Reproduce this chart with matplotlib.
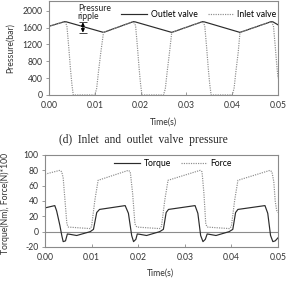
import matplotlib
matplotlib.use("Agg")
import matplotlib.pyplot as plt

# ---------------- data ----------------
# (d) Inlet and outlet valve pressure
t_outlet = [0.0, 0.0034, 0.0038, 0.0119, 0.0184, 0.0188, 0.0268, 0.0335, 0.0339, 0.0417, 0.0485, 0.0489, 0.0500]
p_outlet = [1630, 1740, 1735, 1485, 1740, 1735, 1485, 1740, 1735, 1485, 1740, 1735, 1665]

t_inlet = [0.0, 0.0034, 0.0039, 0.0043, 0.0047, 0.0050, 0.0053, 0.0100, 0.0104, 0.0108, 0.0113, 0.0119,
           0.0184, 0.0189, 0.0193, 0.0197, 0.0200, 0.0203, 0.0250, 0.0254, 0.0258, 0.0263, 0.0268,
           0.0335, 0.0340, 0.0344, 0.0348, 0.0351, 0.0354, 0.0400, 0.0404, 0.0408, 0.0413, 0.0417,
           0.0485, 0.0490, 0.0494, 0.0497, 0.0500]
p_inlet = [1630, 1740, 1650, 1150, 600, 250, 0, 0, 150, 550, 1000, 1485,
           1740, 1650, 1150, 600, 250, 0, 0, 150, 550, 1000, 1485,
           1740, 1650, 1150, 600, 250, 0, 0, 150, 550, 1000, 1485,
           1740, 1650, 1150, 750, 400]

# (e) Torque and force
t_torque = [0.0, 0.0021, 0.0025, 0.0032, 0.0036, 0.0039, 0.0044, 0.0048, 0.0054, 0.0068, 0.0097, 0.0104, 0.0111, 0.0117,
            0.0172, 0.0179, 0.0186, 0.0190, 0.0195, 0.0198, 0.0204, 0.0218, 0.0246, 0.0254, 0.0260, 0.0265,
            0.0322, 0.0328, 0.0334, 0.0339, 0.0344, 0.0348, 0.0353, 0.0367, 0.0395, 0.0403, 0.0409, 0.0414,
            0.0472, 0.0478, 0.0484, 0.0489, 0.0494, 0.0500]
v_torque = [31, 34, 27, 8, -5, -13, -12, -3, -3.5, -5, 0, 3, 25, 29,
            34, 24, -5, -13, -10, -3, -3.5, -5, 0, 3, 25, 29,
            34, 24, -5, -13, -10, -3, -3.5, -5, 0, 3, 25, 29,
            34, 24, -5, -13, -12, -8]

t_force = [0.0, 0.0032, 0.0036, 0.0039, 0.0043, 0.0047, 0.0050, 0.0097, 0.0100, 0.0107, 0.0114,
           0.0179, 0.0183, 0.0188, 0.0193, 0.0197, 0.0246, 0.0250, 0.0257, 0.0264,
           0.0333, 0.0337, 0.0341, 0.0345, 0.0348, 0.0396, 0.0400, 0.0407, 0.0414,
           0.0483, 0.0487, 0.0491, 0.0494, 0.0497, 0.0500]
v_force = [75, 80, 78, 70, 40, 10, 6, 4, 7, 41, 67,
           80, 78, 50, 10, 6, 4, 7, 41, 67,
           80, 78, 50, 10, 6, 4, 7, 41, 67,
           80, 78, 65, 40, 28, 25]

p_ticks = [0, 400, 800, 1200, 1600, 2000]
f_ticks = [-20, 0, 20, 40, 60, 80, 100]
x_ticks = [0.00, 0.01, 0.02, 0.03, 0.04, 0.05]

# ---------------- style ----------------
FONT = "Lato"
plt.rcParams['font.family'] = [FONT, 'DejaVu Sans']
FS = 6.2
DARK = "#2b2b2b"
LIGHT = "#8c8c8c"
FRAME = "#8a8a8a"

fig = plt.figure(figsize=(2.87, 2.81), dpi=100)


def style_axes(ax):
    for s in ax.spines.values():
        s.set_color(FRAME)
        s.set_linewidth(0.8)
    ax.tick_params(axis='x', direction='in', length=2.5, width=0.6, color=FRAME,
                   labelsize=FS, pad=4, labelcolor="#333333")
    ax.tick_params(axis='y', direction='out', length=2.5, width=0.6, color=FRAME,
                   labelsize=FS, pad=2, labelcolor="#333333")
    ax.set_xticks(x_ticks)
    ax.set_xticklabels([f"{v:.2f}" for v in x_ticks])
    ax.set_xlim(0, 0.05)


# ---- top axes ----
ax1 = fig.add_axes([49 / 287, 1 - 95 / 281, 229 / 287, 94 / 281])
ax1.plot(t_outlet, p_outlet, color=DARK, lw=0.85, label="Outlet valve")
ax1.plot(t_inlet, p_inlet, color=LIGHT, lw=0.85, ls=(0, (1, 1)), label="Inlet valve")
ax1.set_ylim(0, 2230)
ax1.set_yticks(p_ticks)
ax1.set_yticklabels([str(v) for v in p_ticks])
style_axes(ax1)
ax1.legend(loc='center', bbox_to_anchor=(0.655, 0.86), ncol=2, frameon=False, fontsize=FS,
           handlelength=3.0, handletextpad=0.4, columnspacing=1.2, borderpad=0, borderaxespad=0)

# pressure ripple annotation
ax1.text(0.0063, 2170, "Pressure\nripple", fontsize=FS, va='top', ha='left', linespacing=0.95, color="#222222")
x_r = 0.0074
ax1.annotate("", xy=(x_r, 1725), xytext=(x_r, 1480),
             arrowprops=dict(arrowstyle='<|-|>', color='black', lw=0.8,
                             mutation_scale=5, shrinkA=0, shrinkB=0))
ax1.hlines([1725, 1480], x_r - 0.0008, x_r + 0.0008, color='#444444', lw=0.7)

fig.text(10 / 287, 1 - 48 / 281, "Pressure(bar)", rotation=90, fontsize=FS, ha='center', va='center', color="#333333")
fig.text(163 / 287, 1 - 122 / 281, "Time(s)", fontsize=FS, ha='center', va='center', color="#333333")
fig.text(143 / 287, 1 - 140 / 281, "(d)  Inlet  and  outlet  valve  pressure", fontsize=8.3,
         ha='center', va='center', family='Liberation Serif', color="#222222")

# ---- bottom axes ----
ax2 = fig.add_axes([45 / 287, 1 - 247 / 281, 233 / 287, 92 / 281])
ax2.axhline(0, color=LIGHT, lw=0.8)
ax2.plot(t_torque, v_torque, color=DARK, lw=0.85, label="Torque")
ax2.plot(t_force, v_force, color=LIGHT, lw=0.85, ls=(0, (1, 1)), label="Force")
ax2.set_ylim(-20, 100)
ax2.set_yticks(f_ticks)
ax2.set_yticklabels([str(v) for v in f_ticks])
style_axes(ax2)
ax2.legend(loc='center', bbox_to_anchor=(0.55, 0.91), ncol=2, frameon=False, fontsize=FS,
           handlelength=3.0, handletextpad=0.4, columnspacing=1.2, borderpad=0, borderaxespad=0)

fig.text(5 / 287, 1 - 203 / 281, "Torque(Nm), Force(N)*100", rotation=90, fontsize=FS, ha='center',
         va='center', color="#333333")
fig.text(160 / 287, 1 - 273 / 281, "Time(s)", fontsize=FS, ha='center', va='center', color="#333333")

fig.savefig("out.png", dpi=100)
